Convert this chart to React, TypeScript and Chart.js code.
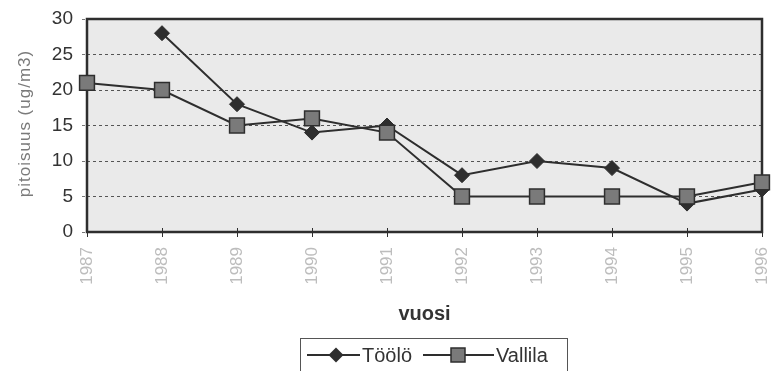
import React, { useEffect, useRef } from "react";
import { Chart, registerables } from "chart.js";

Chart.register(...registerables);

const years = ["1987", "1988", "1989", "1990", "1991", "1992", "1993", "1994", "1995", "1996"];
const tooloValues: (number | null)[] = [null, 28, 18, 14, 15, 8, 10, 9, 4, 6];
const vallilaValues: number[] = [21, 20, 15, 16, 14, 5, 5, 5, 5, 7];
const seriesNames = ["Töölö", "Vallila"];
const yTitle = "pitoisuus (ug/m3)";
const xTitle = "vuosi";

const FONT = "'Liberation Sans', Arial, sans-serif";
const DARK = "#2e2e2e";

function drawMarker(ctx: CanvasRenderingContext2D, kind: string, x: number, y: number) {
  ctx.save();
  ctx.strokeStyle = DARK;
  ctx.lineWidth = 1.5;
  if (kind === "diamond") {
    const r = 7.5;
    ctx.fillStyle = DARK;
    ctx.beginPath();
    ctx.moveTo(x, y - r);
    ctx.lineTo(x + r, y);
    ctx.lineTo(x, y + r);
    ctx.lineTo(x - r, y);
    ctx.closePath();
    ctx.fill();
  } else {
    const s = 14;
    ctx.fillStyle = "#7a7a7a";
    ctx.fillRect(x - s / 2, y - s / 2, s, s);
    ctx.strokeRect(x - s / 2, y - s / 2, s, s);
  }
  ctx.restore();
}

const decorPlugin = {
  id: "decor",
  beforeDraw(chart: any) {
    const { ctx, chartArea: a } = chart;
    ctx.save();
    ctx.fillStyle = "#ffffff";
    ctx.fillRect(0, 0, chart.width, chart.height);
    ctx.fillStyle = "#eaeaea";
    ctx.fillRect(a.left, a.top, a.right - a.left, a.bottom - a.top);
    ctx.restore();
  },
  beforeDatasetsDraw(chart: any) {
    const { ctx, chartArea: a } = chart;
    const xs = chart.scales.x;
    ctx.save();
    ctx.strokeStyle = DARK;
    ctx.lineWidth = 1;
    for (let i = 0; i < years.length; i++) {
      const px = Math.round(xs.getPixelForTick(i)) + 0.5;
      ctx.beginPath();
      ctx.moveTo(px, a.bottom - 4);
      ctx.lineTo(px, a.bottom + 5);
      ctx.stroke();
    }
    ctx.lineWidth = 2.5;
    ctx.strokeRect(a.left, a.top, a.right - a.left, a.bottom - a.top);
    ctx.restore();
  },
  afterDraw(chart: any) {
    const { ctx, chartArea: a } = chart;
    ctx.save();
    // x title
    ctx.fillStyle = "#333333";
    ctx.font = `bold 20px ${FONT}`;
    ctx.textAlign = "center";
    ctx.textBaseline = "middle";
    ctx.fillText(xTitle, (a.left + a.right) / 2, 314);
    // y title
    ctx.save();
    ctx.translate(25, (a.top + a.bottom) / 2 - 2);
    ctx.rotate(-Math.PI / 2);
    ctx.fillStyle = "#7a7a7a";
    ctx.font = `17px ${FONT}`;
    (ctx as any).letterSpacing = "1px";
    ctx.fillText(yTitle, 0, 0);
    ctx.restore();
    // legend
    const bx = 300, by = 338, bw = 267, bh = 40;
    ctx.fillStyle = "#ffffff";
    ctx.fillRect(bx, by, bw, bh);
    ctx.strokeStyle = "#555555";
    ctx.lineWidth = 1;
    ctx.strokeRect(bx + 0.5, by + 0.5, bw, bh);
    const ly = 355;
    ctx.strokeStyle = DARK;
    ctx.lineWidth = 2;
    ctx.beginPath();
    ctx.moveTo(307, ly);
    ctx.lineTo(360, ly);
    ctx.stroke();
    drawMarker(ctx, "diamond", 336, ly);
    ctx.beginPath();
    ctx.moveTo(423, ly);
    ctx.lineTo(494, ly);
    ctx.stroke();
    drawMarker(ctx, "square", 458, ly);
    ctx.fillStyle = "#333333";
    ctx.font = `20px ${FONT}`;
    ctx.textAlign = "left";
    ctx.textBaseline = "middle";
    ctx.fillText(seriesNames[0], 362, ly + 1);
    ctx.fillText(seriesNames[1], 496, ly + 1);
    ctx.restore();
  },
};

export default function App() {
  const ref = useRef<HTMLCanvasElement | null>(null);
  useEffect(() => {
    document.body.style.margin = "0";
    const canvas = ref.current;
    if (!canvas) return;
    const chart = new Chart(canvas, {
      type: "line",
      data: {
        labels: years,
        datasets: [
          {
            label: seriesNames[0],
            data: tooloValues,
            borderColor: DARK,
            backgroundColor: DARK,
            borderWidth: 2,
            pointStyle: "rectRot",
            pointRadius: 7.5,
            pointBorderWidth: 1,
            pointBackgroundColor: DARK,
            pointBorderColor: DARK,
            tension: 0,
            order: 1,
          },
          {
            label: seriesNames[1],
            data: vallilaValues,
            borderColor: DARK,
            backgroundColor: "#7a7a7a",
            borderWidth: 2,
            pointStyle: "rect",
            pointRadius: 10.5,
            pointBorderWidth: 1.5,
            pointBackgroundColor: "#7a7a7a",
            pointBorderColor: DARK,
            tension: 0,
            order: 0,
          },
        ],
      },
      options: {
        responsive: false,
        animation: false,
        devicePixelRatio: 1,
        layout: { padding: { top: 19, right: 7, left: 0, bottom: 0 } },
        plugins: { legend: { display: false }, tooltip: { enabled: false } },
        scales: {
          x: {
            offset: false,
            grid: { display: false, drawTicks: false },
            border: { display: false },
            ticks: {
              autoSkip: false,
              maxRotation: 90,
              minRotation: 90,
              padding: 15,
              color: "#bdbdbd",
              font: { family: FONT, size: 17 },
            },
            afterFit(scale: any) {
              scale.height = 371 - 232;
              scale.paddingLeft = 0;
              scale.paddingRight = 0;
            },
          },
          y: {
            min: 0,
            max: 30,
            ticks: {
              stepSize: 5,
              padding: 9,
              color: "#333333",
              font: { family: FONT, size: 19 },
            },
            grid: {
              color: "#555555",
              lineWidth: 1,
              tickLength: 5,
              tickColor: "#777777",
              borderDash: [3, 3],
              tickBorderDash: [3, 3],
            } as any,
            border: { display: false, dash: [3, 3] },
            afterFit(scale: any) {
              scale.width = 87;
              scale.paddingTop = 0;
              scale.paddingBottom = 0;
            },
          },
        },
      },
      plugins: [decorPlugin],
    } as any);
    return () => chart.destroy();
  }, []);
  return (
    <div style={{ position: "absolute", left: 0, top: 0, width: 774, height: 371 }}>
      <canvas ref={ref} width={774} height={371} style={{ display: "block" }} />
    </div>
  );
}
